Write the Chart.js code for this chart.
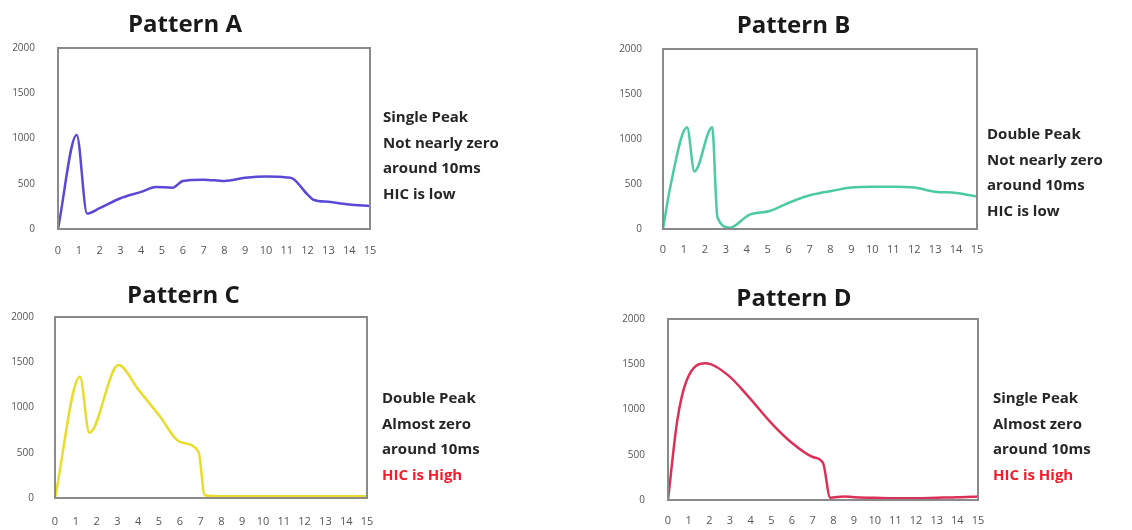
<!DOCTYPE html>
<html>
<head>
<meta charset="utf-8">
<script src="https://cdn.jsdelivr.net/npm/chart.js@4/dist/chart.umd.min.js"></script>
<style>
  body { margin: 0; background: #fff; width: 1132px; height: 530px; position: relative; overflow: hidden; }
  .box { position: absolute; }
  .note { position: absolute; font-family: "Open Sans", sans-serif; font-weight: bold; font-size: 15px; line-height: 25.5px; color: #262626; white-space: nowrap; z-index: 2; }
  .red { color: #f21d2b; }
</style>
</head>
<body>
<div class="box" style="left:0px;top:0px;width:400px;height:262px"><canvas id="chartA"></canvas></div>
<div class="box" style="left:610px;top:0px;width:436px;height:262px"><canvas id="chartB"></canvas></div>
<div class="box" style="left:0px;top:262px;width:430px;height:268px"><canvas id="chartC"></canvas></div>
<div class="box" style="left:610px;top:262px;width:408px;height:268px"><canvas id="chartD"></canvas></div>

<div class="note" style="left:383px;top:104px">Single Peak<br>Not nearly zero<br>around 10ms<br>HIC is low</div>
<div class="note" style="left:987px;top:121px">Double Peak<br>Not nearly zero<br>around 10ms<br>HIC is low</div>
<div class="note" style="left:382px;top:385px">Double Peak<br>Almost zero<br>around 10ms<br><span class="red">HIC is High</span></div>
<div class="note" style="left:993px;top:385px">Single Peak<br>Almost zero<br>around 10ms<br><span class="red">HIC is High</span></div>

<script>
// time in ms, force values
const timeA = [0, 0.9, 1.4, 2, 3, 4, 4.7, 5.5, 6, 7, 8, 9, 10, 11, 11.3, 12, 12.3, 13, 14, 15];
const valuesA = [0, 1040, 170, 230, 340, 410, 465, 455, 530, 545, 530, 565, 580, 570, 555, 380, 320, 300, 270, 255];

const timeB = [0, 0.35, 1.15, 1.5, 2.35, 2.6, 3.2, 4.1, 5.1, 6.1, 7.1, 8.1, 9, 10, 11, 12, 13, 14, 15];
const valuesB = [0, 470, 1130, 640, 1130, 130, 15, 155, 200, 300, 380, 425, 460, 470, 470, 460, 415, 400, 360];

const timeC = [0, 1.2, 1.65, 3.05, 4, 5.05, 6, 6.9, 7.2, 8, 9, 10, 11, 12, 13, 14, 15];
const valuesC = [0, 1340, 720, 1470, 1200, 900, 620, 510, 30, 20, 20, 20, 20, 20, 20, 20, 20];

const timeD = [0, 0.45, 0.9, 1.8, 2.9, 3.9, 5, 6, 7, 7.5, 7.85, 8.5, 9, 10, 11, 12, 13, 14, 15];
const valuesD = [0, 880, 1320, 1510, 1380, 1140, 850, 630, 475, 410, 25, 40, 30, 25, 20, 20, 25, 30, 40];

const yTicks = [0, 500, 1000, 1500, 2000];

// gray frame round the plot area
const framePlugin = {
  id: "frame",
  afterDraw(chart) {
    const a = chart.chartArea;
    const c = chart.ctx;
    c.save();
    c.strokeStyle = "#8a8a8a";
    c.lineWidth = 2;
    c.strokeRect(a.left, a.top, a.right - a.left, a.bottom - a.top);
    c.restore();
  }
};

function makeChart(id, title, times, values, color, opt) {
  const pts = times.map((t, i) => ({ x: t, y: values[i] }));
  new Chart(document.getElementById(id), {
    type: "line",
    data: {
      datasets: [{
        data: pts,
        borderColor: color,
        borderWidth: 2.5,
        pointRadius: 0,
        cubicInterpolationMode: "monotone",
        fill: false
      }]
    },
    options: {
      animation: false,
      responsive: true,
      maintainAspectRatio: false,
      layout: { padding: { left: 0, right: opt.right, top: 0, bottom: 0 } },
      plugins: {
        legend: { display: false },
        tooltip: { enabled: false },
        title: {
          display: true,
          text: title,
          color: "#1a1a1a",
          font: { family: "Open Sans", weight: "bold", size: 24, lineHeight: 1 },
          padding: { top: opt.titleTop, bottom: opt.titleBottom }
        }
      },
      scales: {
        x: {
          type: "linear",
          min: 0,
          max: 15,
          grid: { display: false },
          border: { display: false },
          ticks: {
            stepSize: 1,
            autoSkip: false,
            maxRotation: 0,
            padding: opt.xPad,
            color: "#555",
            font: { family: "Open Sans", size: 11 }
          },
          afterFit(s) { s.height = opt.xHeight; }
        },
        y: {
          min: 0,
          max: 2000,
          grid: { display: false },
          border: { display: false },
          afterBuildTicks(s) { s.ticks = yTicks.map(v => ({ value: v })); },
          ticks: {
            padding: opt.yPad,
            color: "#555",
            font: { family: "Open Sans", size: 10 },
            callback: v => String(v)
          },
          afterFit(s) { s.width = opt.yWidth; }
        }
      }
    },
    plugins: [framePlugin]
  });
}

makeChart("chartA", "Pattern A", timeA, valuesA, "#5a48d6",
  { right: 30, yWidth: 58, xHeight: 33, titleTop: 13, titleBottom: 11, xPad: 7, yPad: 15 });
makeChart("chartB", "Pattern B", timeB, valuesB, "#4ccaa2",
  { right: 69, yWidth: 53, xHeight: 33, titleTop: 14, titleBottom: 11, xPad: 6, yPad: 13 });
makeChart("chartC", "Pattern C", timeC, valuesC, "#e8dc2c",
  { right: 63, yWidth: 55, xHeight: 32, titleTop: 22, titleBottom: 9, xPad: 9, yPad: 13 });
makeChart("chartD", "Pattern D", timeD, valuesD, "#dc3058",
  { right: 40, yWidth: 58, xHeight: 30, titleTop: 25, titleBottom: 8, xPad: 6, yPad: 15 });
</script>
</body>
</html>
